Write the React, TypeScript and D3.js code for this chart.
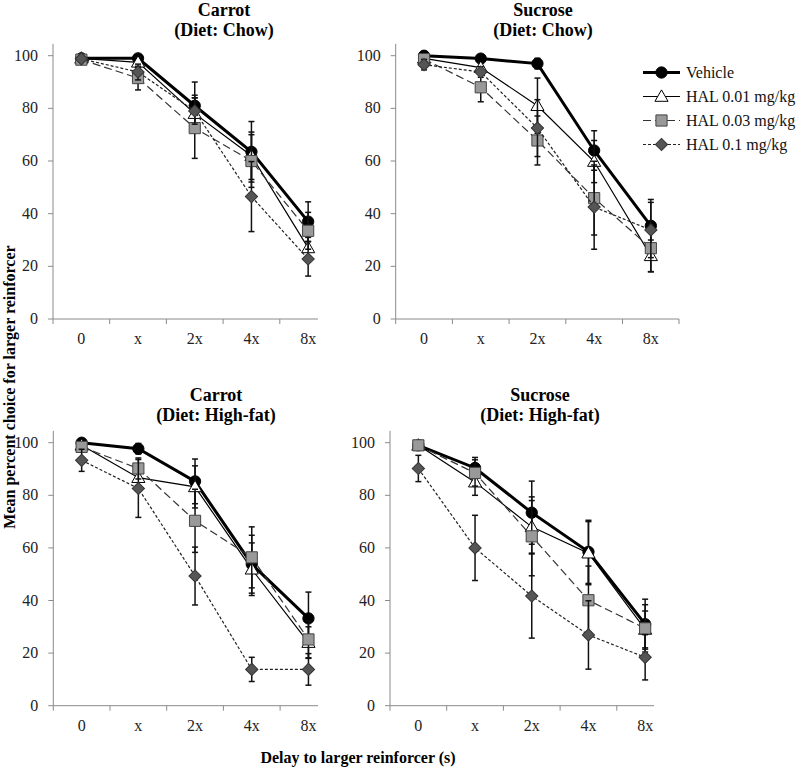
import * as d3 from "d3";

const delays = ["0", "x", "2x", "4x", "8x"];
const yTicks = [0, 20, 40, 60, 80, 100];
const seriesNames = ["Vehicle", "HAL 0.01 mg/kg", "HAL 0.03 mg/kg", "HAL 0.1 mg/kg"];

// means per series: vehicle, 0.01, 0.03, 0.1
const carrotChowMeans = [
  [99, 99, 81, 63.5, 37],
  [99, 97.5, 78, 62, 27],
  [98.5, 91.5, 72.5, 60, 33.5],
  [98.8, 93.8, 79, 46.5, 22.8],
];
const carrotChowErr = [
  [1, 1, 9, 11.5, 7.5],
  [1, 2, 7, 9, 4],
  [1.5, 4.5, 11.5, 10, 7],
  [1, 3, 5, 13.3, 6.5],
];
const sucroseChowMeans = [
  [100, 98.9, 97, 64, 35.4],
  [99, 95.5, 81, 59.8, 24],
  [98.7, 88, 67.8, 45.9, 26.9],
  [96.6, 93.8, 72.5, 42.5, 33.8],
];
const sucroseChowErr = [
  [1, 1, 2, 7.5, 10],
  [1.5, 2, 10.5, 8, 6],
  [1.5, 5.5, 9.3, 14, 9],
  [2, 2, 10.8, 16, 10.5],
];
const carrotFatMeans = [
  [100, 97.7, 85.3, 53.8, 33.2],
  [99, 86.7, 83.2, 51.9, 24],
  [98.4, 90.2, 70.3, 56.4, 25.2],
  [93.3, 82.6, 49.3, 13.8, 13.8],
];
const carrotFatErr = [
  [1, 2, 8.5, 11, 10],
  [1, 3, 8, 10, 6],
  [1.5, 4, 12, 11.6, 7],
  [4.2, 11, 11, 4.6, 6],
];
const sucroseFatMeans = [
  [99, 90.4, 73.4, 58.5, 31],
  [99, 85, 68, 58, 29],
  [99, 88.5, 64.4, 40.1, 29.4],
  [90.2, 60, 41.7, 26.9, 18.4],
];
const sucroseFatErr = [
  [1, 4, 12, 12, 9.5],
  [1, 5, 10, 12, 7],
  [1, 5, 15, 13, 9],
  [5, 12.4, 16, 13, 8.6],
];

const font = "'Liberation Serif', 'Times New Roman', serif";

const panels = [
  { title: ["Carrot", "(Diet: Chow)"], means: carrotChowMeans, err: carrotChowErr, x0: 53, top: 55.7, bottom: 319, axisEnd: 318, titleX: 224, titleY: 16 },
  { title: ["Sucrose", "(Diet: Chow)"], means: sucroseChowMeans, err: sucroseChowErr, x0: 395.7, top: 55.7, bottom: 319, axisEnd: 679, titleX: 543, titleY: 16 },
  { title: ["Carrot", "(Diet: High-fat)"], means: carrotFatMeans, err: carrotFatErr, x0: 53.3, top: 442.7, bottom: 705.7, axisEnd: 318, titleX: 216, titleY: 401 },
  { title: ["Sucrose", "(Diet: High-fat)"], means: sucroseFatMeans, err: sucroseFatErr, x0: 390, top: 442.7, bottom: 705.7, axisEnd: 654, titleX: 540, titleY: 401 },
];

// series styles
const styles = [
  { line: "#000", width: 3, dash: "", fill: "#000", stroke: "#000", shape: "circle" },
  { line: "#000", width: 1.2, dash: "", fill: "#fff", stroke: "#000", shape: "triangle" },
  { line: "#333", width: 1.2, dash: "8,4", fill: "#999", stroke: "#444", shape: "square" },
  { line: "#222", width: 1.2, dash: "3,2", fill: "#555", stroke: "#333", shape: "diamond" },
];

function markerPath(shape: string) {
  if (shape === "circle") return d3.symbol(d3.symbolCircle, 100)();
  if (shape === "triangle") return d3.symbol(d3.symbolTriangle, 75)();
  if (shape === "square") return d3.symbol(d3.symbolSquare, 125)();
  return d3.symbol(d3.symbolSquare, 75)();
}

function Marker({ shape, x, y, fill, stroke }: any) {
  const rot = shape === "diamond" ? 45 : 0;
  const dy = shape === "triangle" ? 1 : 0;
  return (
    <path
      d={markerPath(shape) || ""}
      transform={`translate(${x},${y + dy}) rotate(${rot})`}
      fill={fill}
      stroke={stroke}
      strokeWidth={1}
    />
  );
}

function Panel({ p }: any) {
  const band = 56.7;
  const x = d3.scaleBand().domain(delays).range([p.x0, p.x0 + band * delays.length]);
  const y = d3.scaleLinear().domain([0, 100]).range([p.bottom, p.top]);
  const cx = (d: string) => (x(d) as number) + x.bandwidth() / 2;
  const axisColor = "#8a8a8a";
  return (
    <g>
      <text x={p.titleX} y={p.titleY} textAnchor="middle" fontFamily={font} fontWeight="bold" fontSize={18}>
        {p.title[0]}
      </text>
      <text x={p.titleX} y={p.titleY + 20} textAnchor="middle" fontFamily={font} fontWeight="bold" fontSize={18}>
        {p.title[1]}
      </text>
      {/* y axis */}
      <line x1={p.x0} x2={p.x0} y1={y(104.5)} y2={y(0)} stroke={axisColor} />
      {yTicks.map((t) => (
        <g key={t}>
          <line x1={p.x0 - 5} x2={p.x0} y1={y(t)} y2={y(t)} stroke={axisColor} />
          <text x={p.x0 - 15} y={y(t) + 5} textAnchor="end" fontFamily={font} fontSize={16} fill="#222">
            {t}
          </text>
        </g>
      ))}
      {/* x axis */}
      <line x1={p.x0} x2={p.axisEnd} y1={y(0)} y2={y(0)} stroke={axisColor} />
      {delays.map((d) => (
        <g key={d}>
          <line x1={x(d)} x2={x(d)} y1={y(0)} y2={y(0) + 5} stroke={axisColor} />
          <text x={cx(d)} y={y(0) + 25} textAnchor="middle" fontFamily={font} fontSize={16} fill="#222">
            {d}
          </text>
        </g>
      ))}
      {p.axisEnd >= p.x0 + band * delays.length - 1 && (
        <line x1={p.axisEnd} x2={p.axisEnd} y1={y(0)} y2={y(0) + 5} stroke={axisColor} />
      )}
      {/* series */}
      {p.means.map((vals: number[], si: number) => {
        const s = styles[si];
        const pts = vals.map((v, i) => [cx(delays[i]), y(v)] as [number, number]);
        const line = d3.line()(pts) || "";
        return (
          <g key={si}>
            {vals.map((v, i) => {
              const e = p.err[si][i];
              const px = cx(delays[i]);
              return (
                <g key={i} stroke="#111" strokeWidth={1.5}>
                  <line x1={px} x2={px} y1={y(v + e)} y2={y(v - e)} />
                  <line x1={px - 3} x2={px + 3} y1={y(v + e)} y2={y(v + e)} />
                  <line x1={px - 3} x2={px + 3} y1={y(v - e)} y2={y(v - e)} />
                </g>
              );
            })}
            <path d={line} fill="none" stroke={s.line} strokeWidth={s.width} strokeDasharray={s.dash} />
            {pts.map(([px, py], i) => (
              <Marker key={i} shape={s.shape} x={px} y={py} fill={s.fill} stroke={s.stroke} />
            ))}
          </g>
        );
      })}
    </g>
  );
}

function Legend() {
  const lx1 = 643;
  const lx2 = 680;
  const rowY = d3.scaleLinear().domain([0, 3]).range([72.5, 144.5]);
  return (
    <g>
      {seriesNames.map((name, i) => {
        const s = styles[i];
        const yy = rowY(i);
        return (
          <g key={name}>
            <line x1={lx1} x2={lx2} y1={yy} y2={yy} stroke={s.line} strokeWidth={s.width} strokeDasharray={s.dash} />
            <Marker shape={s.shape} x={(lx1 + lx2) / 2} y={yy} fill={s.fill} stroke={s.stroke} />
            <text x={686} y={yy + 5} fontFamily={font} fontSize={16} fill="#111">
              {name}
            </text>
          </g>
        );
      })}
    </g>
  );
}

export default function App() {
  return (
    <svg width={800} height={769} style={{ position: "absolute", left: 0, top: 0, background: "#fff" }}>
      <rect width={800} height={769} fill="#fff" />
      {panels.map((p, i) => (
        <Panel key={i} p={p} />
      ))}
      <Legend />
      <text
        transform="translate(15,387) rotate(-90)"
        textAnchor="middle"
        fontFamily={font}
        fontWeight="bold"
        fontSize={16}
      >
        Mean percent choice for larger reinforcer
      </text>
      <text x={358} y={763} textAnchor="middle" fontFamily={font} fontWeight="bold" fontSize={16}>
        Delay to larger reinforcer (s)
      </text>
    </svg>
  );
}
